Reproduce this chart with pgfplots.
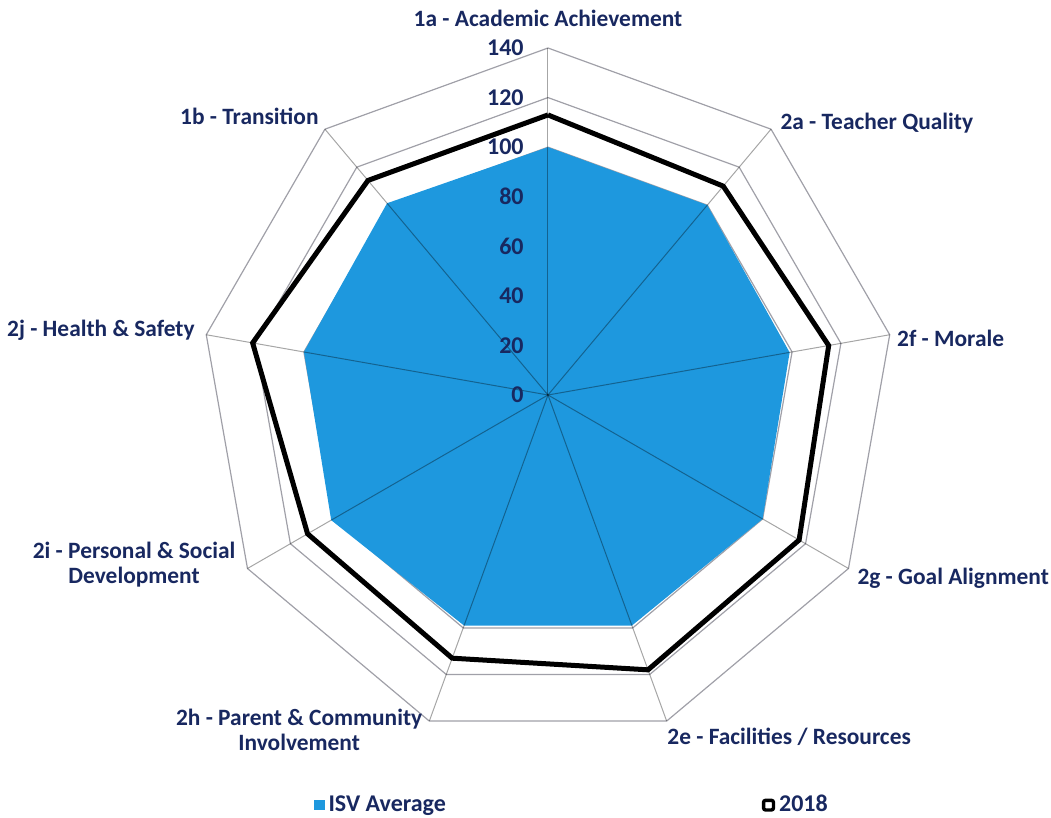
\documentclass[border=0pt]{standalone}
\usepackage{pgfplots}
\pgfplotsset{compat=1.18}
\usepgfplotslibrary{polar}
\usepackage{fontspec}
\setmainfont{Carlito}
\definecolor{isvblue}{RGB}{30,152,222}
\definecolor{navy}{RGB}{24,40,96}
\definecolor{gridgray}{RGB}{160,160,168}
\begin{document}
\begin{tikzpicture}
\path[use as bounding box] (-274pt,-211.5pt) rectangle (251.5pt,197.5pt);
\begin{polaraxis}[
  at={(0,0)}, anchor=center,
  width=347pt, height=347pt, scale only axis,
  ymin=0, ymax=140, xmin=0, xmax=360,
  axis line style={draw=none},
  xtick=\empty, ytick=\empty,
  clip=false,
  legend columns=2,
  legend style={draw=none, fill=none, at={(0.536,-0.091)}, anchor=center,
    font=\bfseries\fontsize{12}{13}\selectfont, text=navy,
    /tikz/every even column/.append style={column sep=156pt}},
]
% grid rings
\pgfplotsinvokeforeach{20,40,60,80,100,120,140}{
\addplot[gridgray, line width=0.6pt, forget plot] coordinates {(90,#1)(50,#1)(10,#1)(-30,#1)(-70,#1)(-110,#1)(-150,#1)(-190,#1)(-230,#1)(-270,#1)};
}
% ISV Average
\addplot[fill=isvblue, draw=none,
  legend image code/.code={\fill[isvblue] (0pt,-2.6pt) rectangle (5.2pt,2.6pt);}]
  coordinates {(90,100)(50,100)(10,99)(-30,100)(-70,99)(-110,99)(-150,101)(-190,100)(-230,101)(-270,100)};
\addlegendentry{ISV Average}
% spokes
\pgfplotsinvokeforeach{90,50,10,-30,-70,-110,-150,-190,-230}{
\addplot[black, opacity=0.35, line width=0.5pt, forget plot] coordinates {(#1,0)(#1,140)};
}
% 2018
\addplot[black, line width=2.5pt, line join=miter,
  legend image code/.code={\draw[black, line width=1.7pt, rounded corners=1pt, fill=white] (0.85pt,-2.4pt) rectangle (5.8pt,2.4pt);}]
  coordinates {(90,113)(50,110)(10,115)(-30,117)(-70,118)(-110,113)(-150,112)(-190,121)(-230,113)(-270,113)};
\addlegendentry{2018}
% radial tick labels
\pgfplotsinvokeforeach{0,20,40,60,80,100,120,140}{
\node[anchor=east, font=\bfseries\fontsize{12}{12}\selectfont, text=navy, xshift=-11pt, inner sep=1pt] at (axis cs:90,#1) {#1};
}
% category labels
\begin{scope}[every node/.style={font=\bfseries\fontsize{11.7}{12.5}\selectfont, text=navy, inner sep=0pt, align=center}]
\node[anchor=center] at (axis cs:90,152) {1a - Academic Achievement};
\node[anchor=west] at (axis cs:49.5,144.2) {2a - Teacher Quality};
\node[anchor=west] at (axis cs:9.3,142.6) {2f - Morale};
\node[anchor=west] at (axis cs:-30.6,144.9) {2g - Goal Alignment};
\node[anchor=west] at (axis cs:-70.8,146) {2e - Facilities / Resources};
\node[anchor=center] at (axis cs:233.4,168.4) {2h - Parent \& Community\\Involvement};
\node[anchor=center] at (axis cs:202.3,180.5) {2i - Personal \& Social\\Development};
\node[anchor=east] at (axis cs:169.6,144.8) {2j - Health \& Safety};
\node[anchor=east] at (axis cs:129.4,145.6) {1b - Transition};
\end{scope}
\end{polaraxis}
\end{tikzpicture}
\end{document}
